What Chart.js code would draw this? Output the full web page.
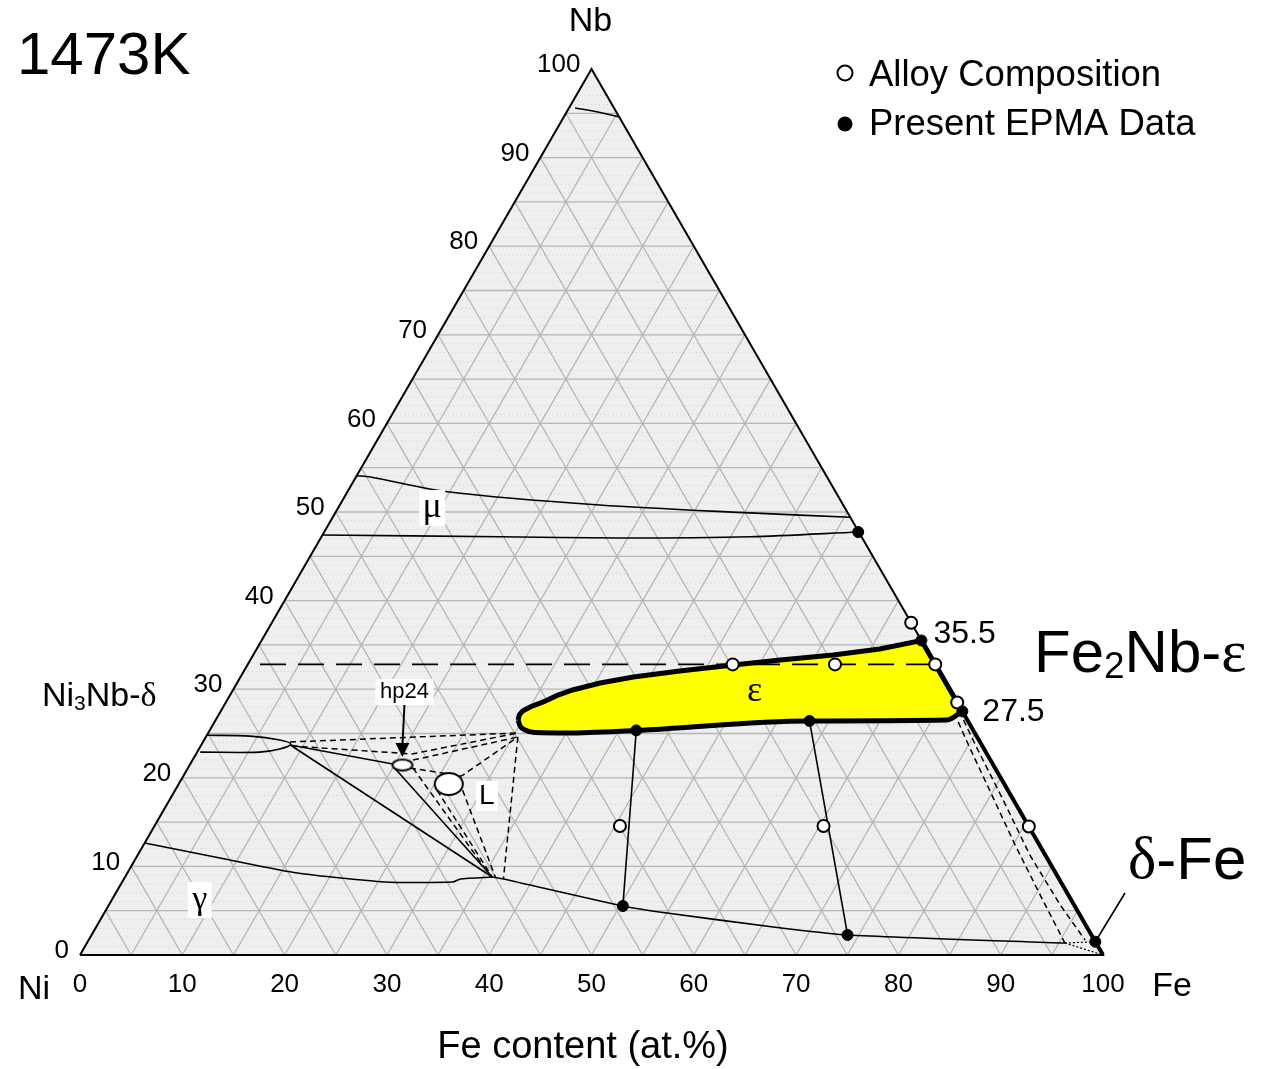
<!DOCTYPE html>
<html>
<head>
<meta charset="utf-8">
<script src="https://cdn.jsdelivr.net/npm/chart.js"></script>
<style>
html, body { margin: 0; padding: 0; background: #fff; }
#wrap { width: 1266px; height: 1069px; position: relative; }
</style>
</head>
<body>
<div id="wrap"><canvas id="c"></canvas></div>
<script>
// all compositions are [Fe at.%, Nb at.%], Ni is the balance
const tickValues = [0, 10, 20, 30, 40, 50, 60, 70, 80, 90, 100];
const gridSteps = [5, 10, 15, 20, 25, 30, 35, 40, 45, 50, 55, 60, 65, 70, 75, 80, 85, 90, 95];

const nbCornerCurve = [[0.6, 95.6], [3.3, 95.1], [5.4, 94.6]];
const muUpper = [[0, 54.1], [1.4, 53.95], [10.0, 52.26], [25.4, 50.79], [40.5, 49.9], [50.6, 49.4]];
const muLower = [[0, 47.4], [17.5, 47.2], [29.3, 47.06], [41.9, 47.2], [52.2, 47.74]];
const deltaLens = [[0, 24.8], [4.3, 24.7], [7.4, 24.27], [8.7, 23.8], [7.9, 23.25], [6.1, 22.9], [0.3, 22.9]];

const epsTop = [[29.56, 26.52], [29.4, 27.09], [29.5, 27.54], [30.0, 27.99], [31.0, 28.56], [32.0, 29.3], [33.2, 29.91],
                [35.5, 30.7], [38.4, 31.38], [42.6, 32.05], [47.5, 32.73], [51.8, 33.3], [56.7, 33.86],
                [60.9, 34.54], [64.5, 35.5], [72.5, 27.5]];
const epsBottom = [[29.56, 26.52], [30.1, 25.85], [30.8, 25.4], [31.9, 25.11], [35.1, 25.06], [41.7, 25.35],
                   [58.1, 26.42], [71.5, 26.52], [72.5, 27.5]];

const gammaBoundary = [[0, 12.64], [9.3, 10.72], [16.6, 9.26], [25.7, 8.24], [32.3, 8.24], [32.9, 8.58], [35.9, 8.8]];
const gammaFeBoundary = [[35.9, 8.8], [37.1, 8.58], [50.3, 5.53], [55.0, 4.74], [66.2, 3.16], [73.9, 2.26], [95.6, 1.35]];
const tieDeltaHp = [[8.7, 23.7], [19.8, 21.56]];
const tieDeltaGamma = [[8.7, 23.7], [35.9, 8.8]];
const tieHpGamma = [[20.2, 21.1], [35.9, 8.8]];
const tieEps1 = [[41.7, 25.35], [50.3, 5.53]];
const tieEps2 = [[58.1, 26.42], [73.9, 2.26]];

const liquidDash1 = [[8.5, 24.04], [30.3, 25.06]];
const liquidDash2 = [[8.9, 23.59], [21.1, 22.69], [30.3, 25.06]];
const liquidDash3 = [[21.55, 22.0], [30.5, 24.6]];
const liquidDash4 = [[21.7, 21.1], [27.2, 20.2], [30.5, 24.6]];
const liquidDash5 = [[22.0, 21.1], [35.8, 8.8]];
const liquidDash6 = [[25.6, 18.6], [35.9, 8.8]];
const liquidDash7 = [[28.1, 18.6], [36.2, 8.8]];
const liquidDash8 = [[30.5, 24.6], [37.1, 8.58]];

const feSideDash1 = [[72.7, 26.3], [75.0, 23.7], [79.6, 18.62], [85.2, 12.42], [91.0, 6.21], [95.6, 1.35]];
const feSideDash2 = [[73.1, 26.52], [76.2, 23.14], [81.5, 17.49], [87.2, 11.29], [93.0, 5.64], [97.4, 1.69]];
const feCornerDot1 = [[95.6, 1.35], [100, 0]];
const feCornerDot2 = [[95.6, 1.35], [98.5, 1.5]];
const feThickEdge = [[64.5, 35.5], [100, 0]];
const deltaFePointer = [[98.5, 1.5], [98.65, 7.0]];

const line30 = [[1.2, 32.8], [67.2, 32.8]];

const epmaPoints = [[52.2, 47.74], [64.5, 35.5], [72.5, 27.5], [41.7, 25.35], [58.1, 26.42], [50.3, 5.53], [73.9, 2.26], [98.5, 1.5]];
const alloyPoints = [[62.5, 37.5], [67.2, 32.8], [71.5, 28.5], [85.5, 14.5], [47.4, 32.8], [57.4, 32.8], [45.5, 14.56], [65.4, 14.56]];
const hp24Alloy = [[20.8, 21.44]];
const liquidAlloy = [[26.4, 19.3]];

const SQ = Math.sqrt(3) / 2;
function tern(fe, nb) { return { x: fe + nb / 2, y: nb * SQ }; }
function toXY(list) { return list.map(p => tern(p[0], p[1])); }

function lineSet(list, opts) {
    return Object.assign({
        data: toXY(list), showLine: true, pointRadius: 0, borderColor: '#000',
        borderWidth: 1.6, fill: false, clip: false, tension: 0, order: 40
    }, opts);
}

function gridData(steps) {
    const pts = [];
    steps.forEach(c => {
        pts.push(tern(0, c), tern(100 - c, c), { x: null, y: null });
        pts.push(tern(c, 0), tern(c, 100 - c), { x: null, y: null });
        pts.push(tern(100 - c, 0), tern(0, 100 - c), { x: null, y: null });
    });
    return pts;
}

function fineRows() {
    const pts = [];
    for (let c = 1; c < 100; c++) {
        if (c % 5 === 0) continue;
        pts.push(tern(0, c), tern(100 - c, c), { x: null, y: null });
    }
    return pts;
}

function ellipseImg(w, h) {
    const c = document.createElement('canvas');
    c.width = w + 4; c.height = h + 4;
    const g = c.getContext('2d');
    g.beginPath();
    g.ellipse(c.width / 2, c.height / 2, w / 2, h / 2, 0, 0, Math.PI * 2);
    g.fillStyle = '#fff'; g.fill();
    g.lineWidth = 2; g.strokeStyle = '#000'; g.stroke();
    return c;
}

const SANS = '"Liberation Sans", Arial, sans-serif';
const SERIF = '"Liberation Serif", "Times New Roman", serif';

function pix(chart, fe, nb) {
    const p = tern(fe, nb);
    return [chart.scales.x.getPixelForValue(p.x), chart.scales.y.getPixelForValue(p.y)];
}

// text made of pieces: [text, kind] kind = n (normal), s (subscript), g (greek)
function drawRich(ctx, parts, x, y, size) {
    let cx = x;
    parts.forEach(([t, k]) => {
        if (k === 's') {
            ctx.font = Math.round(size * 0.62) + 'px ' + SANS;
            ctx.fillText(t, cx, y + size * 0.22);
        } else {
            ctx.font = size + 'px ' + (k === 'g' ? SERIF : SANS);
            ctx.fillText(t, cx, y);
        }
        cx += ctx.measureText(t).width;
    });
}

function boxLabel(ctx, text, x, y, font, w, h) {
    ctx.fillStyle = '#fff';
    ctx.fillRect(x - w / 2, y - h / 2, w, h);
    ctx.fillStyle = '#000';
    ctx.font = font;
    ctx.textAlign = 'center';
    ctx.fillText(text, x, y);
}

const textPlugin = {
    id: 'ternaryText',
    afterDraw(chart) {
        const ctx = chart.ctx;
        ctx.save();
        ctx.fillStyle = '#000';
        ctx.textBaseline = 'middle';

        ctx.font = '26px ' + SANS;
        ctx.textAlign = 'center';
        tickValues.forEach(v => {
            const [x, y] = pix(chart, v, 0);
            ctx.fillText(String(v), x, y + 30);
        });
        ctx.textAlign = 'right';
        tickValues.forEach(v => {
            const [x, y] = pix(chart, 0, v);
            ctx.fillText(String(v), x - 11, y - 4);
        });

        ctx.textAlign = 'center';
        ctx.font = '34px ' + SANS;
        const [nbx, nby] = pix(chart, 0, 100);
        ctx.fillText('Nb', nbx - 1, nby - 47);
        const [nix, niy] = pix(chart, 0, 0);
        ctx.fillText('Ni', nix - 46, niy + 35);
        const [fex, fey] = pix(chart, 100, 0);
        ctx.fillText('Fe', fex + 69, fey + 32);
        ctx.font = '38px ' + SANS;
        ctx.fillText('Fe content (at.%)', 583, 1048);

        ctx.textAlign = 'left';
        ctx.font = '60px ' + SANS;
        ctx.textBaseline = 'alphabetic';
        ctx.fillText('1473K', 17, 74);
        ctx.textBaseline = 'middle';

        // legend
        ctx.font = '36.5px ' + SANS;
        ctx.fillText('Alloy Composition', 869, 76);
        ctx.fillText('Present EPMA Data', 869, 125);
        ctx.beginPath();
        ctx.arc(845, 73, 7.5, 0, Math.PI * 2);
        ctx.fillStyle = '#fff'; ctx.fill();
        ctx.lineWidth = 2; ctx.strokeStyle = '#000'; ctx.stroke();
        ctx.beginPath();
        ctx.arc(845, 124, 7.5, 0, Math.PI * 2);
        ctx.fillStyle = '#000'; ctx.fill();

        // phase names
        drawRich(ctx, [['Ni', 'n'], ['3', 's'], ['Nb-', 'n'], ['δ', 'g']], 42, 697, 34);
        drawRich(ctx, [['Fe', 'n'], ['2', 's'], ['Nb-', 'n'], ['ε', 'g']], 1034, 655, 60);
        drawRich(ctx, [['δ', 'g'], ['-Fe', 'n']], 1128, 862, 60);
        ctx.font = '32px ' + SANS;
        const [ax, ay] = pix(chart, 64.5, 35.5);
        ctx.fillText('35.5', ax + 12, ay - 6);
        const [bx, by] = pix(chart, 72.5, 27.5);
        ctx.fillText('27.5', bx + 20, by + 1);

        let p = pix(chart, 9.2, 50.45);
        boxLabel(ctx, 'μ', p[0], p[1], '36px ' + SERIF, 26, 36);
        p = pix(chart, 51.1, 29.68);
        ctx.font = '36px ' + SERIF;
        ctx.fillText('ε', p[0], p[1]);
        p = pix(chart, 30.8, 17.95);
        boxLabel(ctx, 'L', p[0], p[1], '28px ' + SANS, 22, 30);
        p = pix(chart, 8.6, 6.2);
        boxLabel(ctx, 'γ', p[0], p[1], '34px ' + SERIF, 24, 36);

        // hp24 label with arrow
        const [hx, hy] = pix(chart, hp24Alloy[0][0], hp24Alloy[0][1]);
        boxLabel(ctx, 'hp24', hx + 2, hy - 73, '22px ' + SANS, 58, 26);
        ctx.beginPath();
        ctx.moveTo(hx + 2, hy - 60);
        ctx.lineTo(hx, hy - 20);
        ctx.lineWidth = 2; ctx.strokeStyle = '#000'; ctx.stroke();
        ctx.beginPath();
        ctx.moveTo(hx - 7, hy - 22);
        ctx.lineTo(hx + 7, hy - 22);
        ctx.lineTo(hx, hy - 8);
        ctx.closePath();
        ctx.fill();
        ctx.restore();
    }
};

const datasets = [
    { data: toXY([[0, 0], [0, 100], [100, 0]]), showLine: true, pointRadius: 0, borderWidth: 0,
      fill: 'origin', backgroundColor: '#efefef', order: 100 },
    { data: fineRows(), showLine: true, pointRadius: 0, borderWidth: 1, borderDash: [1, 3],
      borderColor: 'rgba(0,0,0,0.15)', fill: false, order: 95 },
    { data: gridData(gridSteps), showLine: true, pointRadius: 0, borderWidth: 1.3,
      borderColor: 'rgba(0,0,0,0.24)', fill: false, order: 90 },
    lineSet([[0, 0], [0, 100], [100, 0], [0, 0]], { borderWidth: 2, order: 20 }),
    lineSet(feThickEdge, { borderWidth: 4, order: 20 }),
    lineSet(nbCornerCurve, { tension: 0.4 }),
    lineSet(muUpper, { tension: 0.3 }),
    lineSet(muLower, { tension: 0.3 }),
    lineSet(deltaLens, { tension: 0.35 }),
    lineSet(gammaBoundary, { tension: 0.2 }),
    lineSet(gammaFeBoundary, { tension: 0.2 }),
    lineSet(tieDeltaHp),
    lineSet(tieDeltaGamma),
    lineSet(tieHpGamma),
    lineSet(tieEps1),
    lineSet(tieEps2),
    lineSet(liquidDash1, { borderDash: [6, 4], borderWidth: 1.5 }),
    lineSet(liquidDash2, { borderDash: [6, 4], borderWidth: 1.5 }),
    lineSet(liquidDash3, { borderDash: [6, 4], borderWidth: 1.5 }),
    lineSet(liquidDash4, { borderDash: [6, 4], borderWidth: 1.5 }),
    lineSet(liquidDash5, { borderDash: [6, 4], borderWidth: 1.5 }),
    lineSet(liquidDash6, { borderDash: [6, 4], borderWidth: 1.5 }),
    lineSet(liquidDash7, { borderDash: [6, 4], borderWidth: 1.5 }),
    lineSet(liquidDash8, { borderDash: [6, 4], borderWidth: 1.5 }),
    lineSet(feSideDash1, { borderDash: [6, 4], borderWidth: 1.5 }),
    lineSet(feSideDash2, { borderDash: [6, 4], borderWidth: 1.5 }),
    lineSet(feCornerDot1, { borderDash: [2, 2], borderWidth: 1.2 }),
    lineSet(feCornerDot2, { borderDash: [2, 2], borderWidth: 1.2 }),
    lineSet(deltaFePointer, { borderWidth: 1.6 }),
    lineSet(epsTop, { borderWidth: 5, fill: '+1', backgroundColor: '#ffff00', order: 30 }),
    lineSet(epsBottom, { borderWidth: 5, cubicInterpolationMode: 'monotone', order: 29 }),
    lineSet(line30, { borderDash: [26, 12], borderWidth: 1.6, order: 25 }),
    { data: toXY(alloyPoints), showLine: false, pointRadius: 6, pointBorderWidth: 2,
      pointBackgroundColor: '#fff', pointBorderColor: '#000', clip: false, order: 2 },
    { data: toXY(epmaPoints), showLine: false, pointRadius: 5.5, pointBorderWidth: 1,
      pointBackgroundColor: '#000', pointBorderColor: '#000', clip: false, order: 1 },
    { data: toXY(hp24Alloy), showLine: false, pointStyle: ellipseImg(20, 11), clip: false, order: 3 },
    { data: toXY(liquidAlloy), showLine: false, pointStyle: ellipseImg(28, 22), clip: false, order: 3 }
];

new Chart(document.getElementById('c'), {
    type: 'scatter',
    data: { datasets },
    options: {
        responsive: true,
        maintainAspectRatio: false,
        animation: false,
        events: [],
        layout: { padding: { left: 80, right: 163, top: 69, bottom: 114 } },
        scales: {
            x: { type: 'linear', min: 0, max: 100, display: false },
            y: { type: 'linear', min: 0, max: 100 * SQ, display: false }
        },
        plugins: { legend: { display: false }, tooltip: { enabled: false } }
    },
    plugins: [textPlugin]
});
</script>
</body>
</html>
